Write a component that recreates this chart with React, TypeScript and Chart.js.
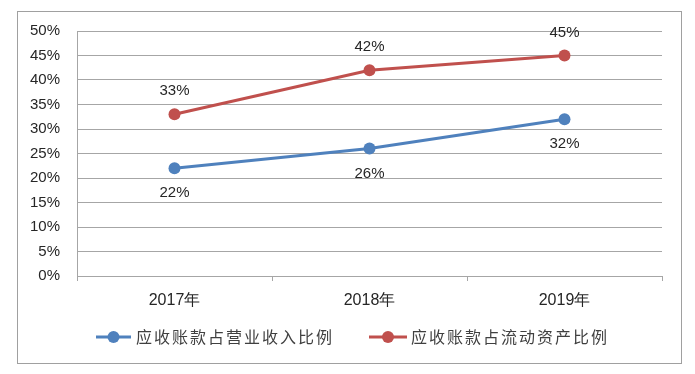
import React, { useEffect, useRef } from "react";
import { Chart, registerables } from "chart.js";

Chart.register(...registerables);

const categories = ["2017年", "2018年", "2019年"];
const seriesRevenue = [22, 26, 32];
const seriesCurrentAssets = [33, 42, 45];
const seriesNames = ["应收账款占营业收入比例", "应收账款占流动资产比例"];
const yTicks = [0, 5, 10, 15, 20, 25, 30, 35, 40, 45, 50];

const BLUE = "#4f81bd";
const RED = "#c0504d";
const TEXT = "#262626";
const GRID = "#a6a6a6";
const LATIN = "'Liberation Sans', Arial, sans-serif";
const CJK = "'Noto Sans CJK SC', sans-serif";

const framePlugin = {
  id: "frame",
  beforeDraw(chart: any) {
    const ctx = chart.ctx;
    ctx.save();
    ctx.fillStyle = "#ffffff";
    ctx.fillRect(0, 0, chart.width, chart.height);
    ctx.strokeStyle = "#a0a0a0";
    ctx.lineWidth = 1;
    ctx.strokeRect(17.5, 11.5, 664, 352);
    ctx.restore();
  },
};

const labelsPlugin = {
  id: "pointLabels",
  afterDatasetsDraw(chart: any) {
    const ctx = chart.ctx;
    ctx.save();
    ctx.font = `15px ${LATIN}`;
    ctx.fillStyle = TEXT;
    ctx.textAlign = "center";
    ctx.textBaseline = "middle";
    chart.data.datasets.forEach((ds: any, i: number) => {
      const meta = chart.getDatasetMeta(i);
      meta.data.forEach((pt: any, j: number) => {
        const off = i === 1 ? -23 : 25;
        ctx.fillText(ds.data[j] + "%", pt.x, pt.y + off);
      });
    });
    ctx.restore();
  },
};

const legendPlugin = {
  id: "customLegend",
  afterDraw(chart: any) {
    const ctx = chart.ctx;
    const y = 337;
    const items = [
      { color: BLUE, x0: 96, x1: 131, tx: 136, name: seriesNames[0] },
      { color: RED, x0: 369, x1: 407, tx: 411, name: seriesNames[1] },
    ];
    ctx.save();
    items.forEach((it) => {
      ctx.strokeStyle = it.color;
      ctx.lineWidth = 3;
      ctx.beginPath();
      ctx.moveTo(it.x0, y);
      ctx.lineTo(it.x1, y);
      ctx.stroke();
      ctx.fillStyle = it.color;
      ctx.beginPath();
      ctx.arc((it.x0 + it.x1) / 2, y, 6, 0, Math.PI * 2);
      ctx.fill();
      ctx.fillStyle = "#404040";
      ctx.font = `16px ${CJK}`;
      ctx.textAlign = "left";
      ctx.textBaseline = "middle";
      let x = it.tx;
      for (const ch of it.name) {
        ctx.fillText(ch, x, y);
        x += 18;
      }
    });
    ctx.restore();
  },
};

export default function App() {
  const ref = useRef<HTMLCanvasElement>(null);
  useEffect(() => {
    document.body.style.margin = "0";
    const chart = new Chart(ref.current as HTMLCanvasElement, {
      type: "line",
      data: {
        labels: categories,
        datasets: [
          {
            label: seriesNames[0],
            data: seriesRevenue,
            borderColor: BLUE,
            backgroundColor: BLUE,
            borderWidth: 3,
            pointRadius: 6,
            pointBackgroundColor: BLUE,
            pointBorderWidth: 0,
          },
          {
            label: seriesNames[1],
            data: seriesCurrentAssets,
            borderColor: RED,
            backgroundColor: RED,
            borderWidth: 3,
            pointRadius: 6,
            pointBackgroundColor: RED,
            pointBorderWidth: 0,
          },
        ],
      },
      options: {
        animation: false,
        responsive: false,
        devicePixelRatio: 1,
        layout: { padding: { left: 17, right: 33, top: 31, bottom: 58 } },
        plugins: { legend: { display: false }, tooltip: { enabled: false } },
        scales: {
          x: {
            offset: true,
            grid: {
              offset: true,
              drawOnChartArea: false,
              drawTicks: true,
              tickLength: 5,
              color: GRID,
            },
            border: { display: true, color: GRID },
            ticks: {
              color: TEXT,
              font: { size: 16, family: LATIN },
              padding: 10,
              maxRotation: 0,
            },
            afterFit: (s: any) => {
              s.height = 40;
            },
          },
          y: {
            min: 0,
            max: 50,
            afterBuildTicks: (s: any) => {
              s.ticks = yTicks.map((v) => ({ value: v }));
            },
            grid: { drawTicks: false, color: GRID },
            border: { display: true, color: GRID },
            ticks: {
              color: TEXT,
              font: { size: 15, family: LATIN },
              padding: 17,
              callback: (v: any) => v + "%",
            },
            afterFit: (s: any) => {
              s.width = 60;
            },
          },
        },
      },
      plugins: [framePlugin, labelsPlugin, legendPlugin],
    });
    return () => chart.destroy();
  }, []);
  return (
    <div style={{ width: 695, height: 374 }}>
      <canvas ref={ref} width={695} height={374} style={{ display: "block" }} />
    </div>
  );
}
